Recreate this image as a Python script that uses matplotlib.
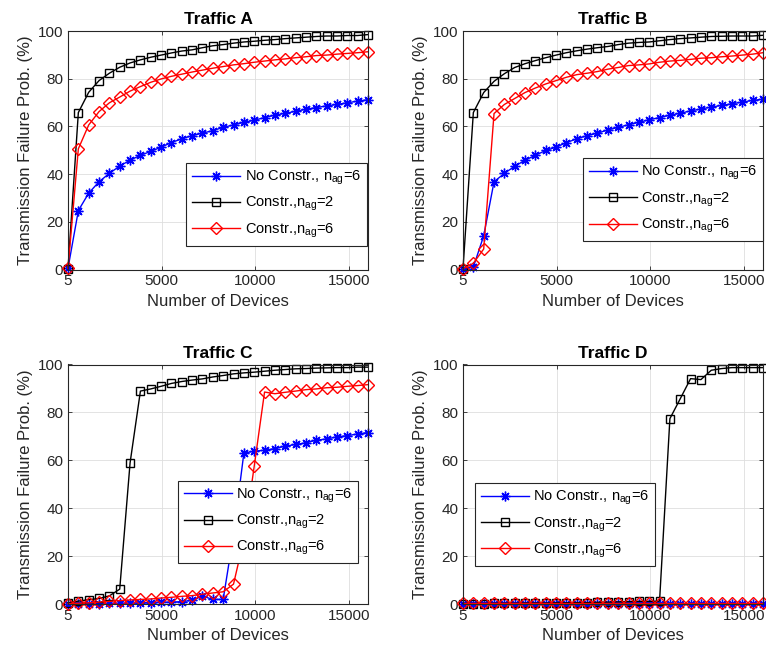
import numpy as np
import matplotlib
matplotlib.use('Agg')
import matplotlib.pyplot as plt

plt.rcParams['font.family'] = ['Liberation Sans', 'DejaVu Sans']
plt.rcParams['mathtext.fontset'] = 'custom'
plt.rcParams['mathtext.rm'] = 'Liberation Sans'
plt.rcParams['mathtext.it'] = 'Liberation Sans'

# Number of devices (30 simulation points between 5 and 16000)
devices = np.linspace(5, 16000, 30)

# Traffic A
a_noconstr6 = [0.5, 24.7, 32.0, 36.8, 40.3, 43.4, 45.8, 47.9, 49.5, 51.3, 53.2, 54.8, 56.1, 57.2, 58.2,
               59.6, 60.6, 61.7, 62.6, 63.7, 64.7, 65.5, 66.3, 67.2, 67.9, 68.6, 69.2, 69.9, 70.6, 71.2]
a_constr2 = [0.3, 65.8, 74.3, 79.2, 82.3, 84.8, 86.6, 87.9, 89.0, 89.9, 90.8, 91.6, 92.1, 93.0, 93.8,
             94.3, 94.9, 95.4, 95.7, 96.1, 96.4, 96.8, 97.1, 97.4, 97.7, 97.9, 97.9, 98.1, 98.1, 98.5]
a_constr6 = [0.5, 50.6, 60.6, 66.2, 69.9, 72.3, 74.8, 76.7, 78.5, 79.9, 81.0, 81.9, 82.8, 83.6, 84.4,
             85.1, 85.8, 86.3, 86.9, 87.4, 87.9, 88.3, 88.8, 89.2, 89.7, 89.9, 90.3, 90.6, 90.9, 91.3]

# Traffic B
b_noconstr6 = [0.3, 1.0, 14.1, 36.8, 40.3, 43.3, 45.8, 47.9, 49.9, 51.3, 53.2, 54.8, 56.1, 57.2, 58.5,
               59.6, 60.7, 61.7, 62.8, 63.7, 64.7, 65.5, 66.5, 67.3, 68.1, 68.8, 69.5, 70.2, 70.9, 71.4]
b_constr2 = [0.3, 65.8, 74.2, 78.9, 82.1, 84.7, 86.3, 87.6, 88.8, 89.9, 90.9, 91.7, 92.4, 93.0, 93.5,
             94.3, 94.9, 95.2, 95.4, 95.9, 96.4, 96.8, 97.1, 97.4, 97.7, 97.8, 97.9, 97.9, 97.9, 98.2]
b_constr6 = [0.3, 2.6, 8.6, 65.4, 69.2, 71.7, 74.2, 76.1, 77.8, 79.2, 80.6, 81.7, 82.3, 83.0, 84.0,
             84.7, 85.5, 85.8, 86.2, 86.9, 87.4, 87.7, 88.1, 88.6, 88.8, 89.2, 89.5, 89.9, 90.3, 90.9]

# Traffic C
c_noconstr6 = [0.1, 0.1, 0.2, 0.2, 0.3, 0.3, 0.4, 0.5, 0.6, 0.7, 0.8, 1.0, 1.5, 3.3, 1.9,
               1.9, 29.0, 63.0, 63.8, 64.2, 64.9, 65.9, 66.6, 67.3, 68.4, 68.9, 69.8, 70.3, 71.0, 71.6]
c_constr2 = [0.5, 1.2, 1.8, 2.3, 3.4, 6.2, 58.9, 88.9, 89.8, 90.9, 92.1, 92.9, 93.5, 94.0, 94.8,
             95.4, 96.1, 96.5, 96.8, 97.2, 97.6, 97.9, 98.2, 98.3, 98.5, 98.6, 98.7, 98.7, 98.9, 98.9]
c_constr6 = [0.2, 0.3, 0.5, 0.8, 1.1, 1.4, 1.7, 1.9, 2.1, 2.5, 2.8, 3.2, 3.5, 4.1, 4.6,
             5.1, 8.3, 27.0, 57.5, 88.5, 87.8, 88.4, 88.9, 89.5, 89.8, 90.3, 90.5, 90.9, 91.2, 91.6]

# Traffic D
d_noconstr6 = [0.2, 0.2, 0.2, 0.2, 0.2, 0.2, 0.2, 0.2, 0.2, 0.2, 0.2, 0.2, 0.2, 0.2, 0.2,
               0.2, 0.2, 0.2, 0.2, 0.2, 0.2, 0.2, 0.2, 0.2, 0.2, 0.2, 0.2, 0.2, 0.2, 0.2]
d_constr2 = [0.2, 0.2, 0.2, 0.3, 0.3, 0.3, 0.4, 0.4, 0.4, 0.5, 0.5, 0.6, 0.6, 0.7, 0.8,
             0.9, 1.0, 1.1, 1.1, 1.2, 77.4, 85.7, 94.1, 93.7, 97.6, 98.3, 98.7, 98.7, 98.7, 98.7]
d_constr6 = [0.3, 0.3, 0.3, 0.3, 0.3, 0.3, 0.3, 0.3, 0.3, 0.3, 0.3, 0.3, 0.3, 0.3, 0.3,
             0.3, 0.3, 0.3, 0.3, 0.3, 0.3, 0.3, 0.3, 0.3, 0.3, 0.3, 0.3, 0.3, 0.3, 0.3]

titles = ['Traffic A', 'Traffic B', 'Traffic C', 'Traffic D']
series = [(a_noconstr6, a_constr2, a_constr6),
          (b_noconstr6, b_constr2, b_constr6),
          (c_noconstr6, c_constr2, c_constr6),
          (d_noconstr6, d_constr2, d_constr6)]
labels = ['No Constr., $\\mathregular{n_{ag}}$=6',
          'Constr.,$\\mathregular{n_{ag}}$=2',
          'Constr.,$\\mathregular{n_{ag}}$=6']

W, H = 766, 656
# axes boxes in pixels: left, top, right, bottom
boxes = [(68, 31, 368, 269.5), (463, 31, 763, 269.5),
         (68, 364.5, 368, 604), (463, 364.5, 763, 604)]
# legend anchor (axes fraction) and loc
leg_pos = [((0.995, 0.10), 'lower right'), ((1.0, 0.12), 'lower right'),
           ((0.967, 0.17), 'lower right'), ((0.04, 0.16), 'lower left')]

axcol = '#262626'
fig = plt.figure(figsize=(W / 100, H / 100), dpi=100)
star = (8, 2, 0)

for i in range(4):
    l, t, r, b = boxes[i]
    ax = fig.add_axes([l / W, 1 - b / H, (r - l) / W, (b - t) / H])
    y1, y2, y3 = series[i]
    ax.plot(devices, y1, color='blue', marker=star, markersize=7, lw=1.0, label=labels[0], clip_on=False)
    ax.plot(devices, y2, color='black', marker='s', markersize=5.5, mfc='none', lw=1.0, label=labels[1], clip_on=False)
    ax.plot(devices, y3, color='red', marker='D', markersize=6, mfc='none', lw=1.0, label=labels[2], clip_on=False)
    ax.set_xlim(5, 16000)
    ax.set_ylim(0, 100)
    ax.set_xticks([5, 5000, 10000, 15000])
    ax.set_xticklabels(['5', '5000', '10000', '15000'])
    ax.set_yticks([0, 20, 40, 60, 80, 100])
    ax.grid(True, color='#dedede', lw=0.6)
    ax.set_axisbelow(True)
    for s in ax.spines.values():
        s.set_color(axcol)
        s.set_linewidth(0.8)
    ax.tick_params(direction='in', length=3, width=0.6, colors=axcol, labelsize=11,
                   top=True, right=True, labelcolor=axcol)
    ax.set_title(titles[i], fontsize=12.5, fontweight='bold', pad=5)
    ax.set_xlabel('Number of Devices', fontsize=12, color=axcol, labelpad=4)
    ax.set_ylabel('Transmission Failure Prob. (%)', fontsize=12, color=axcol, labelpad=3)
    anchor, loc = leg_pos[i]
    leg = ax.legend(loc=loc, bbox_to_anchor=anchor, borderaxespad=0, fontsize=10.5,
                    fancybox=False, framealpha=1, edgecolor=axcol, handlelength=3.3,
                    labelspacing=0.55, handletextpad=0.3, borderpad=0.4)
    leg.get_frame().set_linewidth(0.8)

fig.savefig('out.png', dpi=100)
